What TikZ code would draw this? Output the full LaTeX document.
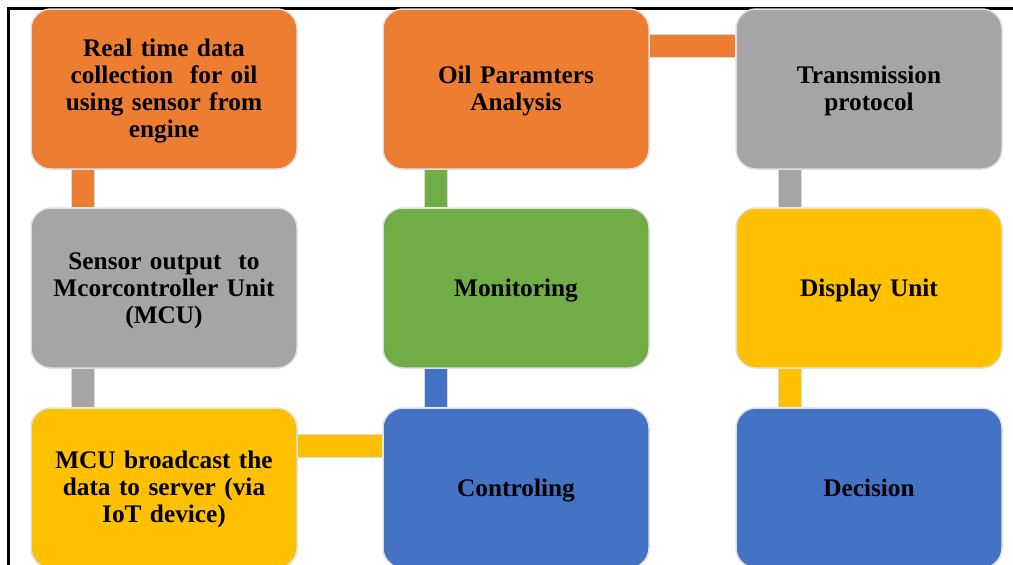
\documentclass[tikz,border=0pt]{standalone}
\usepackage{fontspec}
\setmainfont{Liberation Serif}
\usepackage{xcolor}
\usetikzlibrary{backgrounds}

\definecolor{orangeC}{HTML}{ED7D31}
\definecolor{grayC}{HTML}{A5A5A5}
\definecolor{yellowC}{HTML}{FFC000}
\definecolor{blueC}{HTML}{4472C4}
\definecolor{greenC}{HTML}{70AD47}

\begin{document}
\begin{tikzpicture}[x=1pt,y=-1pt,
  box/.style={draw=black!12, line width=1.5pt, rounded corners=20pt,
    minimum width=266pt, minimum height=160pt, inner sep=0pt,
    text width=256pt, align=center,
    execute at begin node={\lineskiplimit=-20pt\lineskip=0pt},
    execute at end node={\endgraf\vspace*{#1}},
    font=\fontsize{25.3}{27}\selectfont\bfseries},
  box/.default=-10pt,
  bar/.style={draw=black!15, line width=1pt, double distance=22pt, double=#1}]

\useasboundingbox (0,0) rectangle (1013,565);

% frame
\draw[black, line width=2.2pt] (8.5,565) -- (8.5,8.5) -- (1013,8.5);

% first column
\node[box=-4pt, fill=orangeC] (collect) at (164,89)  {Real time data\\ collection\ \ for oil\\ using sensor from\\ engine};
\node[box=-5pt, fill=grayC]   (sensor)  at (164,288) {Sensor output\ \ to\\ Mcorcontroller Unit\\ (MCU)};
\node[box=-2pt, fill=yellowC] (mcu)     at (164,488) {MCU broadcast the\\ data to server (via\\ IoT device)};

% second column
\node[box=-4pt, fill=orangeC] (oil)     at (516,89)  {Oil Paramters\\ Analysis};
\node[box, fill=greenC]       (monitor) at (516,288) {Monitoring};
\node[box, fill=blueC]        (control) at (516,488) {Controling};

% third column
\node[box=-4pt, fill=grayC]   (trans)   at (869,89)  {Transmission\\ protocol};
\node[box, fill=yellowC]      (display) at (869,288) {Display Unit};
\node[box, fill=blueC]        (decide)  at (869,488) {Decision};

\begin{scope}[on background layer]
\draw[bar=orangeC]  ([xshift=53pt]collect.south west) -- ([xshift=53pt]sensor.north west);
\draw[bar=grayC]    ([xshift=53pt]sensor.south west)  -- ([xshift=53pt]mcu.north west);
\draw[bar=yellowC]  ([yshift=-38.5pt]mcu.north east)  -- ([yshift=-38.5pt]control.north west);
\draw[bar=blueC]    ([xshift=54pt]control.north west) -- ([xshift=54pt]monitor.south west);
\draw[bar=greenC]   ([xshift=54pt]monitor.north west) -- ([xshift=54pt]oil.south west);
\draw[bar=orangeC]  ([yshift=-38pt]oil.north east)    -- ([yshift=-38pt]trans.north west);
\draw[bar=grayC]    ([xshift=55pt]trans.south west)   -- ([xshift=55pt]display.north west);
\draw[bar=yellowC]  ([xshift=55pt]display.south west) -- ([xshift=55pt]decide.north west);
\end{scope}

\end{tikzpicture}
\end{document}
